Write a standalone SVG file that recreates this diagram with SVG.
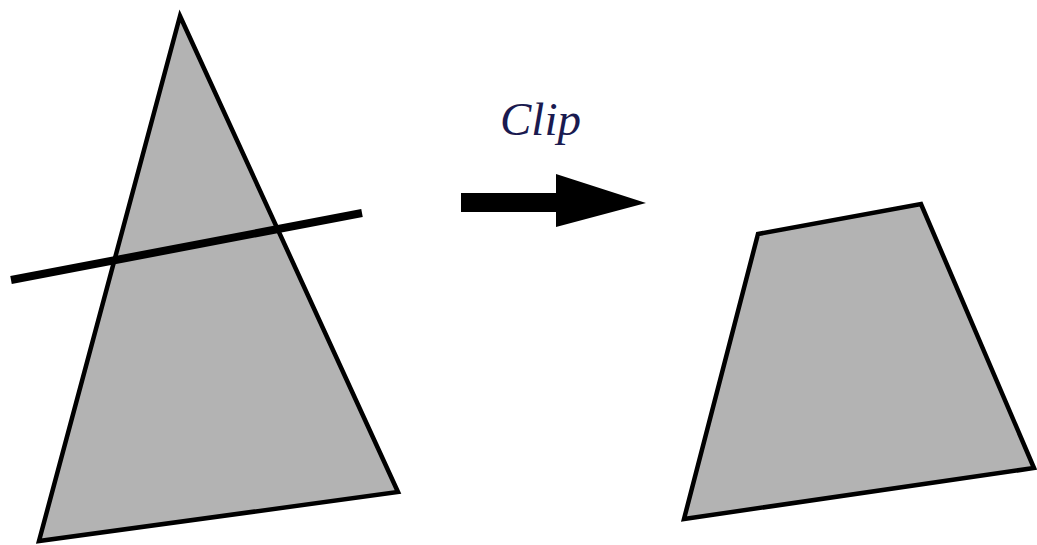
<svg xmlns="http://www.w3.org/2000/svg" width="1037" height="545" viewBox="0 0 1037 545">
  <style>
    .poly { fill: #b3b3b3; stroke: #000; stroke-width: 4.5; stroke-linejoin: miter; stroke-miterlimit: 10; }
    .label { font-family: "Liberation Serif", serif; font-style: italic; font-size: 47px; fill: #1a1a50; }
  </style>
  <rect width="1037" height="545" fill="#fff"/>
  <g id="triangle">
    <polygon class="poly" points="180,16 398,492 39,541"/>
  </g>
  <g id="clip-line">
    <line x1="11" y1="280" x2="362" y2="213" stroke="#000" stroke-width="8"/>
  </g>
  <g id="connectors">
    <polygon points="461,193 556,193 556,174 646,203 556,227 556,212 461,212" fill="#000"/>
  </g>
  <g id="label">
    <text class="label" x="500" y="135">Clip</text>
  </g>
  <g id="trapezoid">
    <polygon class="poly" points="758,234 921,204 1034,468 684,519"/>
  </g>
</svg>
